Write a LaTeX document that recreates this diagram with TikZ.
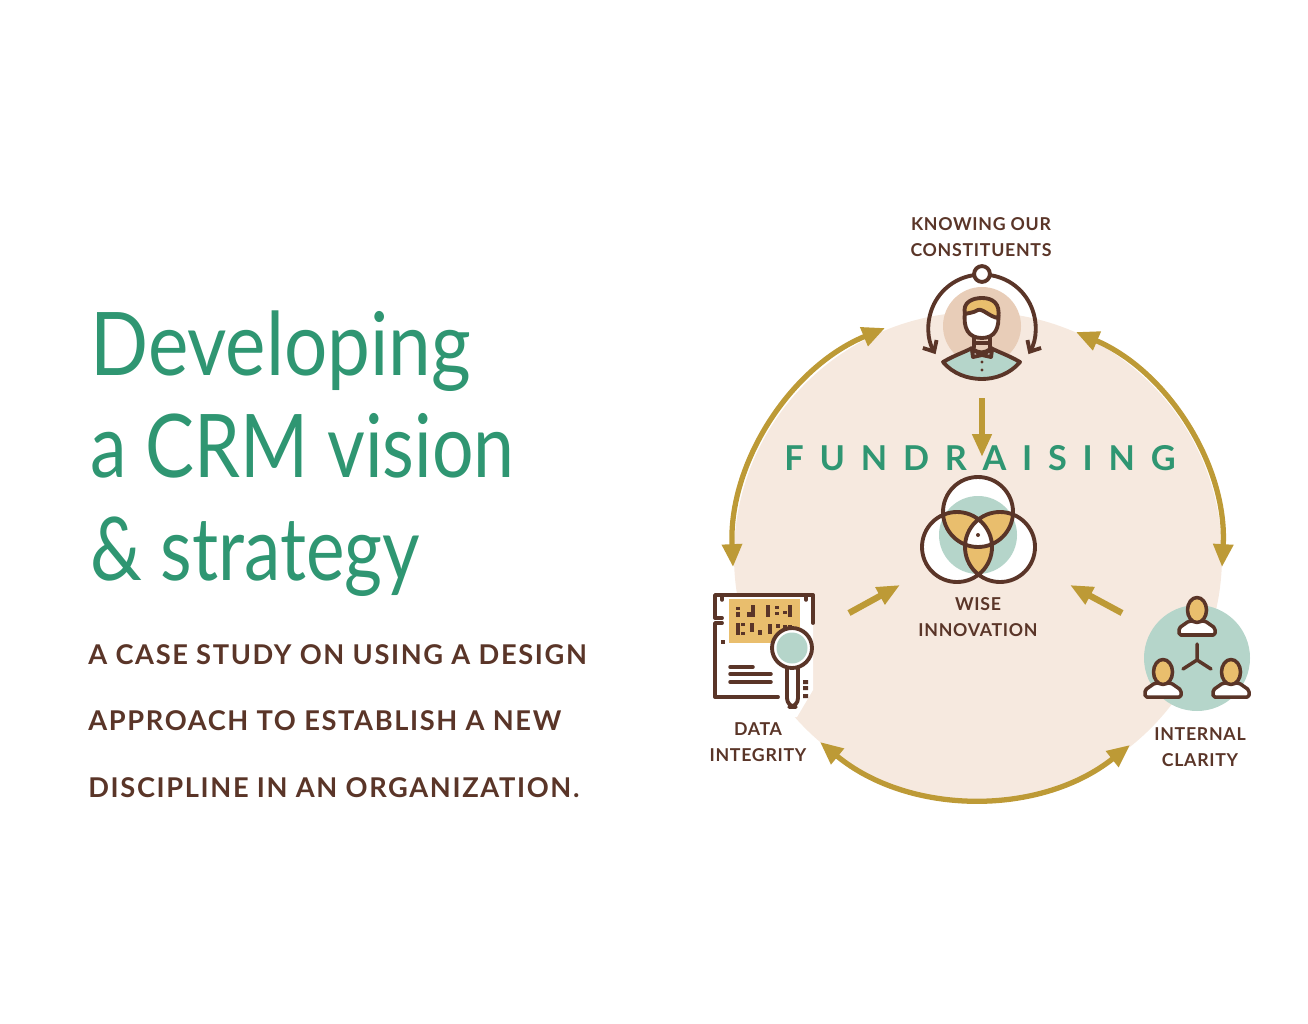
\documentclass[tikz,border=0pt]{standalone}
\usepackage{fontspec}
\usetikzlibrary{arrows.meta}
\setmainfont{Lato}
\newfontfamily\titlefont{Lato}
\newfontfamily\subfont[LetterSpace=6]{Lato Bold}
\newfontfamily\labelfont[LetterSpace=4]{Lato Bold}
\newfontfamily\wordfont[LetterSpace=46]{Lato Bold}
\definecolor{crmgreen}{HTML}{2F9672}
\definecolor{crmbrown}{HTML}{5A3528}
\definecolor{crmgold}{HTML}{BD9A36}
\definecolor{crmpeach}{HTML}{F6E9DF}
\definecolor{crmsage}{HTML}{B5D5CA}
\definecolor{crmyellow}{HTML}{E9BE6D}
\definecolor{crmtan}{HTML}{E8CDB8}
\tikzset{
  titleline/.style={anchor=base west,inner sep=0,text=crmgreen,font=\titlefont\fontsize{50}{50}\selectfont},
  subline/.style={anchor=base west,inner sep=0,text=crmbrown,font=\subfont\fontsize{15.5}{18}\selectfont},
  stagelabel/.style={align=center,inner sep=0,text=crmbrown,font=\labelfont\fontsize{10.1}{14.7}\selectfont},
  ringarrow/.style={draw=crmgold,line width=3pt,{Triangle[length=13pt,width=11pt]}-{Triangle[length=13pt,width=11pt]}},
  inarrow/.style={draw=crmgold,line width=3.6pt,-{Triangle[length=13pt,width=10.5pt]}},
  icon/.style={draw=crmbrown,line width=2.2pt,line join=round,line cap=round},
  thin icon/.style={draw=crmbrown,line width=2pt,line join=round,line cap=round}
}
\begin{document}
\begin{tikzpicture}[x=0.02cm,y=-0.02cm]
  \useasboundingbox (0,0) rectangle (1308,1024);
  % title
  \node[titleline,xscale=.87] (tone) at (90,375) {Developing};
  \node[titleline,xscale=.835] (ttwo) at (90,477) {a CRM vision};
  \node[titleline,xscale=.83] (tthree) at (90,580) {\& strategy};
  \node[subline] (sone) at (88,664) {A CASE STUDY ON USING A DESIGN};
  \node[subline] (stwo) at (88,730) {APPROACH TO ESTABLISH A NEW};
  \node[subline] (sthree) at (88,797) {DISCIPLINE IN AN ORGANIZATION.};
  % big disc
  \coordinate (hub) at (978,556);
  \fill[crmpeach] (hub) circle (244);
  % ring arrows
  \coordinate (topl) at (885,328);
  \coordinate (topr) at (1076,332);
  \coordinate (leftd) at (733,567);
  \coordinate (rightd) at (1222,567);
  \coordinate (botl) at (820,742);
  \coordinate (botr) at (1130,745);
  \draw[ringarrow,looseness=.93] (leftd) to[bend left=35] (topl);
  \draw[ringarrow,looseness=.93] (topr) to[bend left=35] (rightd);
  \draw[ringarrow,looseness=.95] (botr) to[bend left=39] (botl);
  % person on top
  \fill[crmtan] (982,326) circle (39);
  \draw[icon,-{Straight Barb[length=5pt,width=9pt]}] (975,275) arc[start angle=263,end angle=150,radius=53];
  \draw[icon,-{Straight Barb[length=5pt,width=9pt]}] (989,275) arc[start angle=277,end angle=390,radius=53];
  \node[icon,circle,fill=white,minimum size=9pt,inner sep=0] (ringdot) at (982,274) {};
  \draw[icon,fill=crmsage] (943,362) .. controls (955,355) and (965,352) .. (972,348) .. controls (978,354) and (985,354) .. (991,348) .. controls (998,352) and (1008,355) .. (1020,362) .. controls (1010,374) and (995,379) .. (982,379) .. controls (968,379) and (953,374) .. (943,362) -- cycle;
  \draw[icon] (974,338) -- (974,347) (990,338) -- (990,347) (974,343) -- (990,343);
  \draw[icon,fill=white] (972,350) -- (982,354) -- (992,350) -- (991,357) -- (982,355) -- (973,357) -- cycle;
  \draw[icon,fill=white] (965,312) .. controls (963,328) and (968,338) .. (982,338) .. controls (995,338) and (1000,328) .. (998,312) .. controls (998,303) and (990,299) .. (982,299) .. controls (973,299) and (965,303) .. (965,312) -- cycle;
  \draw[icon,fill=crmyellow] (965,314) .. controls (962,302) and (973,298) .. (982,298) .. controls (992,298) and (1001,303) .. (998,318) .. controls (990,317) and (982,308) .. (978,310) .. controls (973,313) and (968,313) .. (965,314) -- cycle;
  \fill[crmbrown] (982,362) circle (1.7) (982,370) circle (1.7);
  \node[stagelabel] (knowing) at (981,237) {KNOWING OUR\\CONSTITUENTS};
  % venn
  \fill[white] (978,512) circle (35) (957,547) circle (35) (1000,547) circle (35);
  \fill[crmsage] (978,535) circle (39);
  \begin{scope}
    \clip (978,512) circle (35);
    \fill[crmyellow] (957,547) circle (35) (1000,547) circle (35);
  \end{scope}
  \begin{scope}
    \clip (957,547) circle (35);
    \fill[crmyellow] (1000,547) circle (35);
  \end{scope}
  \begin{scope}
    \clip (978,512) circle (35);
    \clip (957,547) circle (35);
    \fill[white] (1000,547) circle (35);
  \end{scope}
  \draw[icon] (978,512) circle (35) (957,547) circle (35) (1000,547) circle (35);
  \fill[crmbrown] (978,535) circle (2);
  \node[stagelabel] (wise) at (978,617) {WISE\\INNOVATION};
  % inner arrows
  \coordinate (fromtop) at (982,398);
  \coordinate (intop) at (982,457);
  \coordinate (fromdata) at (849,613);
  \coordinate (indata) at (900,585);
  \coordinate (fromclar) at (1122,613);
  \coordinate (inclar) at (1070,585);
  \node[anchor=base,inner sep=0,text=crmgreen,font=\wordfont\fontsize{19.5}{20}\selectfont] (fund) at (980,470) {FUNDRAISING};
  \draw[inarrow] (fromtop) -- (intop);
  \draw[inarrow] (fromdata) -- (indata);
  \draw[inarrow] (fromclar) -- (inclar);
  % data integrity
  \fill[white] (715,595) -- (813,595) -- (813,690) -- (797,717) -- (715,717) -- cycle;
  \fill[crmyellow] (729,599) rectangle (800,643);
  \draw[icon] (722,618) -- (715,618) -- (715,595) -- (813,595) -- (813,623);
  \draw[icon] (722,623) -- (715,623) -- (715,697) -- (778,697);
  \draw[thin icon] (722,595) -- (722,600) (806,595) -- (806,600);
  \foreach \xa/\ya/\yb in {738/607/610,738/612/617,749/612/617,753/605/617,768/605/617,777/606/609,777/612/615,785/611/614,790/605/617,738/623/635,743/623/626,743/632/635,752/623/632,760/630/635,770/624/634,778/624/628,785/625/633,790/625/633}
    \draw[crmbrown,line width=2.1pt] (\xa,\ya) -- (\xa,\yb);
  \fill[crmbrown] (721,640) rectangle (725,644);
  \draw[thin icon] (730,667) -- (753,667) (730,674) -- (771,674) (730,682) -- (771,682);
  \fill[crmbrown] (803,680) rectangle (808,684) (803,686) rectangle (808,690) (803,694) rectangle (808,698);
  \draw[icon,fill=white,rounded corners=5pt] (787,665) -- (787,707) -- (798,707) -- (798,665);
  \draw[icon,fill=white] (792,648) circle (20);
  \fill[crmsage] (792,648) circle (15.5);
  \node[stagelabel] (data) at (758,742) {DATA\\INTEGRITY};
  % internal clarity
  \fill[crmsage] (1197,658) circle (53);
  \foreach \px/\py in {1197/610,1163/672,1231/672}{
    \draw[thin icon,fill=white,rounded corners=1pt] (\px-18,\py+25) -- (\px-18,\py+18) -- (\px-8,\py+11) -- (\px+8,\py+11) -- (\px+18,\py+18) -- (\px+18,\py+25) -- cycle;
    \draw[thin icon,fill=crmyellow] (\px,\py) ellipse (9.5 and 12.5);
  }
  \coordinate (ycentre) at (1197,660);
  \coordinate (yup) at (1197,644);
  \coordinate (yleft) at (1183,669);
  \coordinate (yright) at (1211,669);
  \draw[thin icon] (ycentre) -- (yup) (ycentre) -- (yleft) (ycentre) -- (yright);
  \node[stagelabel] (clarity) at (1200,747) {INTERNAL\\CLARITY};
\end{tikzpicture}
\end{document}
